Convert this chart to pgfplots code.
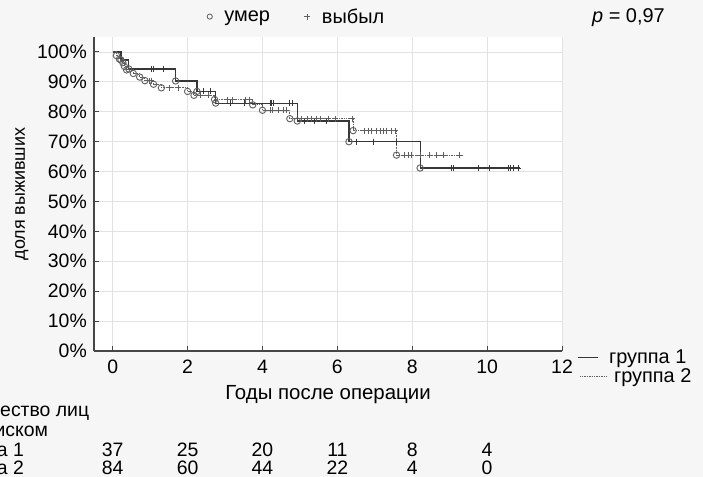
\documentclass[border=0pt]{standalone}
\usepackage{fontspec}
\setmainfont{Liberation Sans}
\usepackage{pgfplots}
\pgfplotsset{compat=1.18}

\definecolor{pagebg}{RGB}{246,246,246}
\definecolor{gridc}{RGB}{226,226,226}
\definecolor{axisc}{RGB}{70,70,70}
\definecolor{gone}{RGB}{55,55,55}
\definecolor{gtwo}{RGB}{95,95,95}
\definecolor{mk}{RGB}{95,95,95}

\newcommand{\fs}{\fontsize{19.5}{22}\selectfont}
\newcommand{\fsl}{\fontsize{20}{23}\selectfont}

% legend keys for the two groups
\pgfplotsset{
  key one/.style={legend image code/.code={\draw[##1] (0bp,0bp) -- (20bp,0bp);}},
  key two/.style={legend image code/.code={\draw[##1] (2bp,0bp) -- (30bp,0bp);}},
}

\begin{document}
\begin{tikzpicture}[font=\fs]
\path[use as bounding box, fill=pagebg] (-94bp,-126bp) rectangle (609bp,351bp);
\clip (-94bp,-126bp) rectangle (609bp,351bp);

\begin{axis}[
  at={(0,0)}, anchor=south west,
  scale only axis, width=468bp, height=314bp,
  xmin=-0.5, xmax=12, ymin=0, ymax=105,
  axis x line=bottom, axis y line=left,
  axis line style={-, axisc, line width=1.1bp},
  axis background/.style={fill=white},
  tick align=inside, major tick length=5bp,
  tick style={axisc, line width=1bp},
  xtick={0,2,...,12}, xticklabels={0,2,4,6,8,10,12},
  ytick={0,10,...,100},
  yticklabels={0\%,10\%,20\%,30\%,40\%,50\%,60\%,70\%,80\%,90\%,100\%},
  xticklabel style={anchor=base, yshift=-22bp, font=\fs},
  yticklabel style={anchor=east, inner sep=0pt, xshift=-7bp, font=\fs},
  grid=major, major grid style={gridc, line width=0.8bp},
  clip=false,
  legend style={draw=none, fill=none, inner sep=0pt, outer sep=0pt,
    at={(axis description cs:1.032,-0.052)}, anchor=west, font=\fsl,
    row sep=1.5bp, nodes={inner sep=1bp},
    /tikz/every odd column/.style={column sep=0bp}},
  legend cell align=left,
]
% survival curves (step functions)
\addplot[const plot, gone, line width=1.1bp, key one] coordinates {
 (0,100) (0.22,97.3) (0.43,94.3) (1.68,90.3) (2.25,86.8) (2.75,82.9)
 (4.93,76.9) (6.31,70.0) (8.21,61.2) (10.87,61.2)};
\addlegendentry{группа 1}
\addplot[const plot, gtwo, line width=1bp, dash pattern=on 1.4bp off 1bp, key two] coordinates {
 (0,100) (0.10,98.8) (0.18,97.6) (0.27,96.4) (0.31,95.2) (0.37,94.0)
 (0.55,92.8) (0.72,91.6) (0.86,90.4) (1.09,89.2) (1.30,88.0) (2.00,86.8)
 (2.17,85.5) (2.72,84.1) (3.74,82.3) (4.00,80.5) (4.73,77.7) (6.42,73.7)
 (7.58,65.5) (9.30,65.5)};
\addlegendentry{\hspace*{5bp}группа 2}

% censored observations
\addplot[forget plot, only marks, mark=+, mark size=3bp, gone, line width=0.8bp] coordinates {
 (1.04,94.3) (1.09,94.3) (1.36,94.3)
 (2.42,86.8) (2.62,86.8)
 (3.13,82.9) (3.52,82.9) (4.20,82.9) (4.25,82.9) (4.30,82.9) (4.73,82.9) (4.79,82.9)
 (5.12,76.9) (5.40,76.9) (5.70,76.9)
 (6.51,70.0) (6.95,70.0) (7.58,70.0)
 (9.05,61.2) (9.11,61.2) (9.76,61.2) (10.07,61.2) (10.56,61.2) (10.63,61.2)
 (10.70,61.2) (10.83,61.2)};
\addplot[forget plot, only marks, mark=+, mark size=3bp, gtwo, line width=0.8bp] coordinates {
 (0.97,90.4) (1.02,90.4)
 (1.52,88.0) (1.75,88.0)
 (2.35,85.5) (2.55,85.5)
 (3.05,84.1) (3.20,84.1) (3.55,84.1) (3.65,84.1)
 (4.20,80.5) (4.27,80.5) (4.42,80.5) (4.55,80.5) (4.64,80.5)
 (5.05,77.7) (5.20,77.7) (5.30,77.7) (5.45,77.7) (5.55,77.7) (5.75,77.7)
 (5.95,77.7) (6.40,77.7)
 (6.73,73.7) (6.82,73.7) (6.91,73.7) (7.05,73.7) (7.14,73.7) (7.23,73.7)
 (7.32,73.7) (7.45,73.7) (7.54,73.7)
 (7.80,65.5) (7.89,65.5) (7.98,65.5) (8.22,65.5) (8.47,65.5) (8.65,65.5)
 (8.83,65.5) (9.27,65.5)};

% deaths
\addplot[forget plot, only marks, mark=o, mark size=3.2bp, mark options={draw=mk, fill=white, line width=0.9bp}] coordinates {
 (0.22,97.3) (0.43,94.3) (1.68,90.3) (2.25,86.8) (2.75,82.9)
 (4.93,76.9) (6.31,70.0) (8.21,61.2)};
\addplot[forget plot, only marks, mark=o, mark size=3.2bp, mark options={draw=mk, fill=white, line width=0.9bp}] coordinates {
 (0.10,98.8) (0.18,97.6) (0.27,96.4) (0.31,95.2) (0.37,94.0)
 (0.55,92.8) (0.72,91.6) (0.86,90.4) (1.09,89.2) (1.30,88.0) (2.00,86.8)
 (2.17,85.5) (2.72,84.1) (3.74,82.3) (4.00,80.5) (4.73,77.7) (6.42,73.7)
 (7.58,65.5)};

% numbers at risk
\node[anchor=base] at ([yshift=-105bp]axis cs:0,0) {37};
\node[anchor=base] at ([yshift=-105bp]axis cs:2,0) {25};
\node[anchor=base] at ([yshift=-105bp]axis cs:4,0) {20};
\node[anchor=base] at ([yshift=-105bp]axis cs:6,0) {11};
\node[anchor=base] at ([yshift=-105bp]axis cs:8,0) {8};
\node[anchor=base] at ([yshift=-105bp]axis cs:10,0) {4};
\node[anchor=base] at ([yshift=-123bp]axis cs:0,0) {84};
\node[anchor=base] at ([yshift=-123bp]axis cs:2,0) {60};
\node[anchor=base] at ([yshift=-123bp]axis cs:4,0) {44};
\node[anchor=base] at ([yshift=-123bp]axis cs:6,0) {22};
\node[anchor=base] at ([yshift=-123bp]axis cs:8,0) {4};
\node[anchor=base] at ([yshift=-123bp]axis cs:10,0) {0};
\end{axis}

% key for the marks
\begin{axis}[
  at={(0,0)}, anchor=south west,
  scale only axis, width=468bp, height=314bp,
  hide axis, xmin=0, xmax=1, ymin=0, ymax=1,
  legend columns=2,
  legend style={draw=none, fill=none, at={(axis description cs:0.235,1.065)},
    anchor=west, font=\fsl,
    /tikz/every odd column/.append style={column sep=10bp},
    /tikz/every even column/.append style={column sep=32bp}},
]
\addlegendimage{only marks, mark=o, mark size=2.6bp, mk, line width=0.8bp}
\addlegendentry{умер}
\addlegendimage{only marks, mark=+, mark size=3bp, mk, line width=0.8bp}
\addlegendentry{выбыл}
\end{axis}

% titles and labels
\node[anchor=base, font=\fontsize{20.5}{24}\selectfont] at (234bp,-48bp) {Годы после операции};
\node[rotate=90, anchor=base, font=\fontsize{18}{21}\selectfont] at (-69bp,157bp) {доля выживших};
\node[anchor=base west, inner sep=0pt, font=\fsl] at (498bp,328bp) {\textit{p} = 0,97};

% risk table captions
\node[anchor=base west, inner sep=0pt] at (-148bp,-65bp) {Количество лиц};
\node[anchor=base west, inner sep=0pt] at (-148bp,-85bp) {под риском};
\node[anchor=base west, inner sep=0pt] at (-148bp,-105bp) {Группа 1};
\node[anchor=base west, inner sep=0pt] at (-148bp,-123bp) {Группа 2};
\end{tikzpicture}
\end{document}
